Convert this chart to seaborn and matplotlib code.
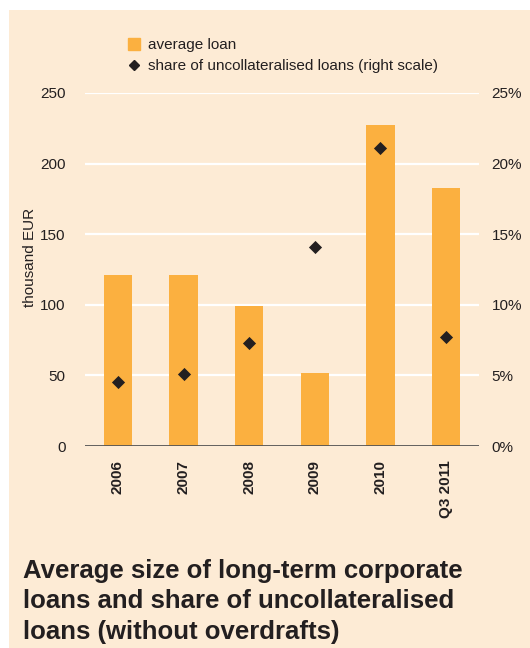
import matplotlib
matplotlib.use("Agg")
import matplotlib.pyplot as plt
import seaborn as sns
import pandas as pd
from matplotlib.lines import Line2D
from matplotlib.patches import Rectangle

# data
years = ["2006", "2007", "2008", "2009", "2010", "Q3 2011"]
avg_loan = [121, 121, 99, 52, 227, 183]           # thousand EUR
uncoll_share = [4.5, 5.1, 7.3, 14.1, 21.1, 7.7]   # percent
left_ticks = [0, 50, 100, 150, 200, 250]
right_ticks = [0, 5, 10, 15, 20, 25]

title = ("Average size of long-term corporate\n"
         "loans and share of uncollateralised\n"
         "loans (without overdrafts)")

peach = "#FDEBD5"
orange = "#FBB040"
dark = "#231F20"

sns.set_style("white")
plt.rcParams["font.family"] = ["Liberation Sans", "DejaVu Sans"]

df = pd.DataFrame({"year": years, "loan": avg_loan, "share": uncoll_share})

fig = plt.figure(figsize=(5.3, 6.48), dpi=100, facecolor="white")
fig.patches.append(Rectangle((9 / 530, 0), 1, 1 - 10 / 648, transform=fig.transFigure,
                             facecolor=peach, edgecolor="none", zorder=-10))

ax = fig.add_axes([85 / 530, 1 - 446 / 648, 394 / 530, 353 / 648])
ax.set_facecolor("none")
sns.barplot(data=df, x="year", y="loan", color=orange, width=0.43,
            saturation=1, linewidth=0, ax=ax, zorder=2)
ax.set_xlim(-0.5, 5.5)
ax.set_ylim(0, 250)
ax.set_yticks(left_ticks)
for v in left_ticks[1:]:
    ax.axhline(v, color="white", lw=1.6, zorder=1)
ax.axhline(0, color="#555555", lw=1.3, zorder=3)
for s in ax.spines.values():
    s.set_visible(False)
ax.tick_params(axis="y", length=0, pad=14, labelsize=11, labelcolor=dark)
ax.tick_params(axis="x", length=0, pad=10, labelsize=11, labelcolor=dark)
for lab in ax.get_xticklabels():
    lab.set_rotation(90)
    lab.set_fontweight("bold")
ax.set_xlabel("")
ax.set_ylabel("thousand EUR", fontsize=11, color=dark)
ax.yaxis.set_label_coords(-0.122, 0.535)

ax2 = ax.twinx()
sns.scatterplot(data=df, x="year", y="share", marker="D", color=dark, s=45,
                edgecolor=dark, linewidth=0, ax=ax2, zorder=4)
ax2.set_ylim(0, 25)
ax2.set_yticks(right_ticks)
ax2.set_yticklabels([f"{t}%" for t in right_ticks])
ax2.set_ylabel("")
for s in ax2.spines.values():
    s.set_visible(False)
ax2.tick_params(axis="y", length=0, pad=9, labelsize=11, labelcolor=dark)

handles = [Line2D([], [], marker="s", ls="none", color=orange, markersize=9),
           Line2D([], [], marker="D", ls="none", color=dark, markersize=5.5)]
fig.legend(handles, ["average loan", "share of uncollateralised loans (right scale)"],
           loc="upper left", bbox_to_anchor=(122 / 530, 1 - 32 / 648), frameon=False,
           fontsize=11, handlelength=0.8, handletextpad=0.5, labelspacing=0.45,
           borderaxespad=0, labelcolor=dark)

fig.text(23 / 530, 1 - 559 / 648, title, fontsize=18.5, fontweight="bold",
         color=dark, va="top", ha="left", linespacing=1.34)

fig.savefig("out.png", dpi=100, facecolor=fig.get_facecolor())
